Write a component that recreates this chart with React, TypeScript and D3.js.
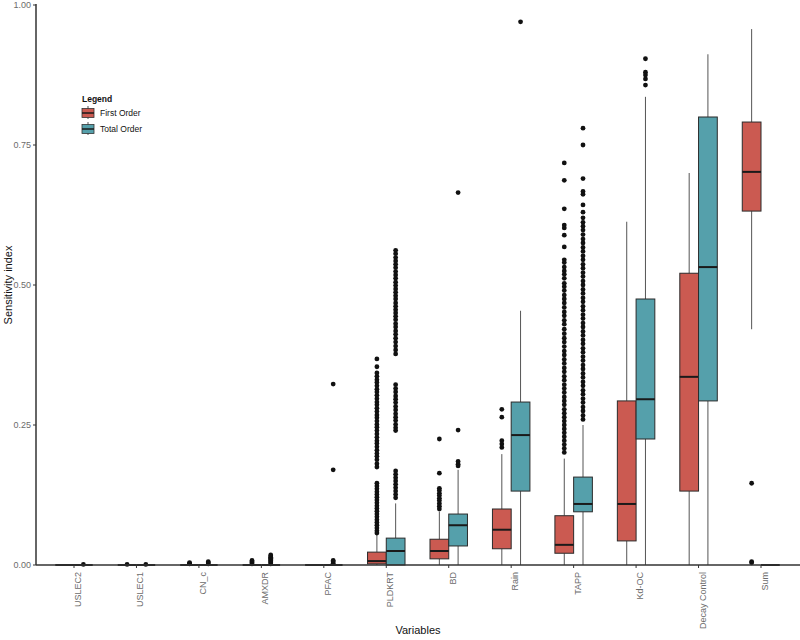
import React from "react";
import * as d3 from "d3";

const categories = ["USLEC2", "USLEC1", "CN_c", "AMXDR", "PFAC", "PLDKRT", "BD", "Rain", "TAPP", "Kd-OC", "Decay Control", "Sum"];
const seriesNames = ["First Order", "Total Order"];
const yTicks = [0, 0.25, 0.5, 0.75, 1.0];

// First Order
const foQ1 = [0, 0, 0, 0, 0, 0.002, 0.011, 0.029, 0.021, 0.043, 0.132, 0.632];
const foMed = [0, 0, 0, 0, 0, 0.007, 0.025, 0.063, 0.036, 0.109, 0.336, 0.702];
const foQ3 = [0, 0, 0, 0, 0, 0.023, 0.046, 0.100, 0.088, 0.293, 0.521, 0.791];
const foLo = [0, 0, 0, 0, 0, 0, 0, 0, 0, 0, 0, 0.421];
const foHi = [0, 0, 0, 0, 0, 0.055, 0.095, 0.198, 0.19, 0.613, 0.70, 0.957];
const foOut: number[][] = [
  [],
  [0.001],
  [0.002, 0.003, 0.004],
  [0.002, 0.004, 0.006, 0.008],
  [],
  [0.368, 0.354, 0.343, 0.337, 0.331, 0.326, 0.320, 0.314, 0.309, 0.303, 0.297, 0.291, 0.286, 0.280, 0.274, 0.268, 0.263, 0.257, 0.251, 0.246, 0.240, 0.234, 0.228, 0.222, 0.217, 0.211, 0.205, 0.199, 0.194, 0.188, 0.181, 0.175, 0.146, 0.141, 0.136, 0.131, 0.126, 0.121, 0.116, 0.111, 0.106, 0.101, 0.096, 0.091, 0.086, 0.081, 0.076, 0.071, 0.066, 0.061, 0.057],
  [0.225, 0.164, 0.137, 0.133, 0.128, 0.124, 0.119, 0.115, 0.11, 0.105, 0.1],
  [0.278, 0.264, 0.222, 0.216, 0.21],
  [0.718, 0.687, 0.636, 0.607, 0.602, 0.589, 0.568, 0.545, 0.540, 0.532, 0.525, 0.519, 0.512, 0.503, 0.497, 0.49, 0.482, 0.475, 0.468, 0.46, 0.452, 0.445, 0.437, 0.43, 0.421, 0.413, 0.405, 0.398, 0.39, 0.382, 0.375, 0.367, 0.36, 0.352, 0.345, 0.337, 0.33, 0.322, 0.315, 0.308, 0.3, 0.293, 0.286, 0.278, 0.271, 0.264, 0.257, 0.25, 0.243, 0.236, 0.229, 0.222, 0.215, 0.208, 0.201],
  [],
  [],
  [0.146, 0.006, 0.004],
];

// Total Order
const toQ1 = [0, 0, 0, 0, 0, 0, 0.034, 0.132, 0.095, 0.225, 0.293, 0];
const toMed = [0, 0, 0, 0, 0, 0.025, 0.071, 0.232, 0.109, 0.296, 0.532, 0];
const toQ3 = [0, 0, 0, 0, 0, 0.048, 0.091, 0.291, 0.157, 0.475, 0.80, 0];
const toLo = [0, 0, 0, 0, 0, 0, 0, 0, 0, 0, 0, 0];
const toHi = [0, 0, 0, 0, 0, 0.11, 0.17, 0.454, 0.25, 0.836, 0.912, 0];
const toOut: number[][] = [
  [0.001],
  [0.001],
  [0.002, 0.004, 0.006],
  [0.002, 0.004, 0.006, 0.008, 0.01, 0.012, 0.014, 0.016, 0.018],
  [0.323, 0.17, 0.003, 0.006, 0.008],
  [0.562, 0.556, 0.549, 0.543, 0.537, 0.531, 0.524, 0.518, 0.512, 0.505, 0.499, 0.493, 0.487, 0.481, 0.475, 0.468, 0.462, 0.456, 0.450, 0.444, 0.438, 0.431, 0.425, 0.418, 0.412, 0.405, 0.398, 0.391, 0.384, 0.377, 0.322, 0.315, 0.309, 0.302, 0.296, 0.290, 0.283, 0.277, 0.270, 0.264, 0.258, 0.251, 0.245, 0.240, 0.168, 0.162, 0.156, 0.150, 0.144, 0.138, 0.132, 0.126, 0.120],
  [0.665, 0.241, 0.185, 0.18, 0.177],
  [0.97],
  [0.78, 0.75, 0.69, 0.667, 0.662, 0.643, 0.63, 0.62, 0.612, 0.605, 0.598, 0.59, 0.582, 0.575, 0.567, 0.56, 0.552, 0.545, 0.537, 0.53, 0.522, 0.515, 0.507, 0.5, 0.492, 0.485, 0.477, 0.47, 0.462, 0.455, 0.447, 0.44, 0.432, 0.425, 0.417, 0.41, 0.402, 0.395, 0.387, 0.38, 0.372, 0.365, 0.357, 0.35, 0.342, 0.335, 0.327, 0.32, 0.312, 0.305, 0.297, 0.29, 0.282, 0.275, 0.267, 0.26],
  [0.904, 0.88, 0.875, 0.868, 0.857],
  [],
  [],
];

const colors = ["#CB5A51", "#55A0AB"];

const W = 800;
const H = 640;
const left = 36;
const bottom = 565;

export default function App() {
  const x = d3.scalePoint<string>().domain(categories).range([74, 761]);
  const y = d3.scaleLinear().domain([0, 1]).range([bottom, 5]);
  const step = x.step();
  const bw = step * 0.3;

  const series = [
    { q1: foQ1, med: foMed, q3: foQ3, lo: foLo, hi: foHi, out: foOut },
    { q1: toQ1, med: toMed, q3: toQ3, lo: toLo, hi: toHi, out: toOut },
  ];

  const font = "'Liberation Sans', Arial, Helvetica, sans-serif";

  return (
    <svg width={W} height={H} style={{ position: "absolute", left: 0, top: 0, background: "#fff" }} fontFamily={font}>
      <rect x={0} y={0} width={W} height={H} fill="#fff" />
      {/* boxes */}
      {series.map((s, si) => (
        <g key={si}>
          {categories.map((c, i) => {
            const cx = (x(c) as number) + (si === 0 ? -bw / 2 : bw / 2);
            return (
              <g key={c}>
                <line x1={cx} x2={cx} y1={y(s.q3[i])} y2={y(s.hi[i])} stroke="#555" strokeWidth={1} />
                <line x1={cx} x2={cx} y1={y(s.q1[i])} y2={y(s.lo[i])} stroke="#555" strokeWidth={1} />
                <rect x={cx - bw / 2} y={y(s.q3[i])} width={bw} height={Math.max(0, y(s.q1[i]) - y(s.q3[i]))} fill={colors[si]} stroke="#2b2b2b" strokeWidth={1} />
                <line x1={cx - bw / 2} x2={cx + bw / 2} y1={y(s.med[i])} y2={y(s.med[i])} stroke="#1a1a1a" strokeWidth={2} />
                {s.out[i].map((v, k) => (
                  <circle key={k} cx={cx} cy={y(v)} r={2.4} fill="#111" />
                ))}
              </g>
            );
          })}
        </g>
      ))}
      {/* axes */}
      <line x1={left} x2={left} y1={4} y2={bottom} stroke="#333" strokeWidth={1.5} />
      <line x1={left} x2={W} y1={bottom} y2={bottom} stroke="#333" strokeWidth={1.5} />
      {yTicks.map((t) => (
        <g key={t}>
          <line x1={left - 3} x2={left} y1={y(t)} y2={y(t)} stroke="#333" strokeWidth={1} />
          <text x={left - 5} y={y(t)} dy="0.35em" textAnchor="end" fontSize={9} fill="#6b6b6b">
            {t.toFixed(2)}
          </text>
        </g>
      ))}
      {categories.map((c) => (
        <g key={c}>
          <line x1={x(c)} x2={x(c)} y1={bottom} y2={bottom + 3} stroke="#333" strokeWidth={1} />
          <text transform={`translate(${(x(c) as number) + 7},${bottom + 7}) rotate(-90)`} textAnchor="end" fontSize={9} fill="#6b6b6b">
            {c}
          </text>
        </g>
      ))}
      <text x={(left + W) / 2} y={634} textAnchor="middle" fontSize={11} fill="#111">Variables</text>
      <text transform={`translate(12,${(5 + bottom) / 2}) rotate(-90)`} textAnchor="middle" fontSize={11} fill="#111">Sensitivity index</text>
      {/* legend */}
      <g>
        <text x={82} y={102} fontSize={8.5} fontWeight="bold" fill="#111">Legend</text>
        {seriesNames.map((n, i) => {
          const ky = 107 + i * 16;
          return (
            <g key={n}>
              <line x1={88} x2={88} y1={ky - 1} y2={ky + 12} stroke="#555" strokeWidth={1} />
              <rect x={82} y={ky + 1.5} width={12} height={9} fill={colors[i]} stroke="#333" strokeWidth={0.8} />
              <line x1={82} x2={94} y1={ky + 6} y2={ky + 6} stroke="#1a1a1a" strokeWidth={1.5} />
              <text x={100} y={ky + 6} dy="0.35em" fontSize={8.5} fill="#111">{n}</text>
            </g>
          );
        })}
      </g>
    </svg>
  );
}
